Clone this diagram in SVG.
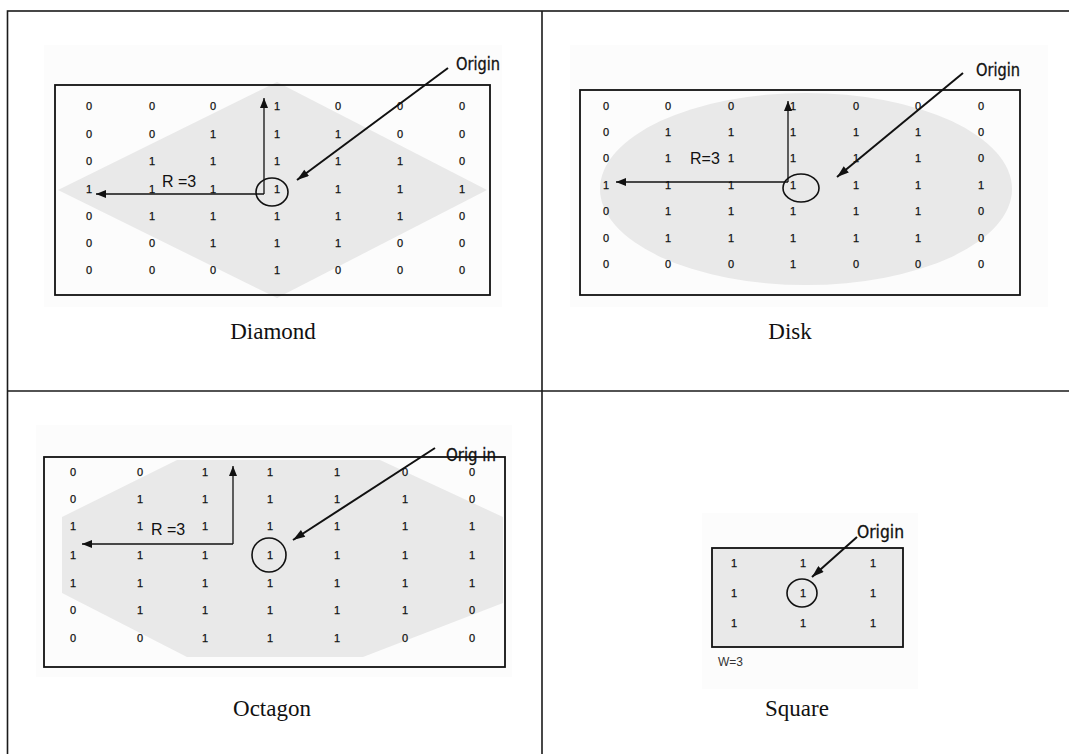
<svg xmlns="http://www.w3.org/2000/svg" width="1069" height="754" viewBox="0 0 1069 754">
  <style>
    .frame { fill: none; stroke: #1a1a1a; stroke-width: 1.6; }
    .box { fill: none; stroke: #111; stroke-width: 1.8; }
    .haze { fill: #fcfcfc; }
    .shape { fill: #e9e9e9; }
    .v { font-family: "Liberation Sans", Arial, sans-serif; font-size: 11px; fill: #111; stroke: #111; stroke-width: 0.25; text-anchor: middle; }
    .r { font-family: "Liberation Sans", Arial, sans-serif; font-size: 16px; fill: #111; }
    .w { font-family: "Liberation Sans", Arial, sans-serif; font-size: 12px; fill: #333; }
    .o { font-family: "Liberation Sans Narrow", "DejaVu Sans Condensed", "Liberation Sans", sans-serif; font-size: 17px; fill: #111; stroke: #111; stroke-width: 0.3; }
    .cap { font-family: "Liberation Serif", "Times New Roman", serif; font-size: 23px; fill: #111; text-anchor: middle; }
    .ring { fill: none; stroke: #111; stroke-width: 1.6; }
    .ray { fill: none; stroke: #111; stroke-width: 1.3; marker-end: url(#head); }
    .ptr { fill: none; stroke: #111; stroke-width: 2; marker-end: url(#bighead); }
  </style>
  <defs>
    <marker id="head" viewBox="0 0 10 8" refX="10" refY="4" markerWidth="10" markerHeight="8" markerUnits="userSpaceOnUse" orient="auto">
      <path d="M0,0 L10,4 L0,8 Z" fill="#111"/>
    </marker>
    <marker id="bighead" viewBox="0 0 12 8" refX="12" refY="4" markerWidth="13" markerHeight="8" markerUnits="userSpaceOnUse" orient="auto">
      <path d="M0,0 L12,4 L0,8 Z" fill="#111"/>
    </marker>
  </defs>

  <rect width="1069" height="754" fill="#fff"/>

  <!-- table grid -->
  <g id="table">
    <rect class="frame" x="7.5" y="11" width="1080" height="760"/>
    <line class="frame" x1="542" y1="11" x2="542" y2="760"/>
    <line class="frame" x1="7.5" y1="391" x2="1080" y2="391"/>
  </g>

  <!-- Diamond -->
  <g id="diamond">
    <rect class="haze" x="44" y="45" width="458" height="262"/>
    <polygon class="shape" points="277,82 487,190 277,298 58,190"/>
    <rect class="box" x="55" y="85" width="435" height="210"/>
    <g class="v">
      <text x="89" y="110">0</text><text x="152" y="110">0</text><text x="213" y="110">0</text><text x="277" y="110">1</text><text x="338" y="110">0</text><text x="400" y="110">0</text><text x="462" y="110">0</text>
      <text x="89" y="138">0</text><text x="152" y="138">0</text><text x="213" y="138">1</text><text x="277" y="138">1</text><text x="338" y="138">1</text><text x="400" y="138">0</text><text x="462" y="138">0</text>
      <text x="89" y="165">0</text><text x="152" y="165">1</text><text x="213" y="165">1</text><text x="277" y="165">1</text><text x="338" y="165">1</text><text x="400" y="165">1</text><text x="462" y="165">0</text>
      <text x="89" y="193">1</text><text x="152" y="193">1</text><text x="213" y="193">1</text><text x="277" y="193">1</text><text x="338" y="193">1</text><text x="400" y="193">1</text><text x="462" y="193">1</text>
      <text x="89" y="220">0</text><text x="152" y="220">1</text><text x="213" y="220">1</text><text x="277" y="220">1</text><text x="338" y="220">1</text><text x="400" y="220">1</text><text x="462" y="220">0</text>
      <text x="89" y="247">0</text><text x="152" y="247">0</text><text x="213" y="247">1</text><text x="277" y="247">1</text><text x="338" y="247">1</text><text x="400" y="247">0</text><text x="462" y="247">0</text>
      <text x="89" y="274">0</text><text x="152" y="274">0</text><text x="213" y="274">0</text><text x="277" y="274">1</text><text x="338" y="274">0</text><text x="400" y="274">0</text><text x="462" y="274">0</text>
    </g>
    <ellipse class="ring" cx="272" cy="192" rx="16" ry="14"/>
    <text class="r" x="162" y="187">R =3</text>
    <text class="o" x="456" y="70" textLength="44" lengthAdjust="spacingAndGlyphs">Origin</text>
    <text class="cap" x="273" y="339">Diamond</text>
  </g>

  <!-- Disk -->
  <g id="disk">
    <rect class="haze" x="570" y="45" width="478" height="262"/>
    <ellipse class="shape" cx="806" cy="189" rx="206" ry="96"/>
    <rect class="box" x="580" y="90" width="440" height="205"/>
    <g class="v">
      <text x="606" y="110">0</text><text x="668" y="110">0</text><text x="731" y="110">0</text><text x="793" y="110">1</text><text x="856" y="110">0</text><text x="918" y="110">0</text><text x="981" y="110">0</text>
      <text x="606" y="136">0</text><text x="668" y="136">1</text><text x="731" y="136">1</text><text x="793" y="136">1</text><text x="856" y="136">1</text><text x="918" y="136">1</text><text x="981" y="136">0</text>
      <text x="606" y="162">0</text><text x="668" y="162">1</text><text x="731" y="162">1</text><text x="793" y="162">1</text><text x="856" y="162">1</text><text x="918" y="162">1</text><text x="981" y="162">0</text>
      <text x="606" y="189">1</text><text x="668" y="189">1</text><text x="731" y="189">1</text><text x="793" y="189">1</text><text x="856" y="189">1</text><text x="918" y="189">1</text><text x="981" y="189">1</text>
      <text x="606" y="215">0</text><text x="668" y="215">1</text><text x="731" y="215">1</text><text x="793" y="215">1</text><text x="856" y="215">1</text><text x="918" y="215">1</text><text x="981" y="215">0</text>
      <text x="606" y="242">0</text><text x="668" y="242">1</text><text x="731" y="242">1</text><text x="793" y="242">1</text><text x="856" y="242">1</text><text x="918" y="242">1</text><text x="981" y="242">0</text>
      <text x="606" y="268">0</text><text x="668" y="268">0</text><text x="731" y="268">0</text><text x="793" y="268">1</text><text x="856" y="268">0</text><text x="918" y="268">0</text><text x="981" y="268">0</text>
    </g>
    <ellipse class="ring" cx="801" cy="188" rx="18" ry="14"/>
    <text class="r" x="690" y="164" font-size="14">R=3</text>
    <text class="o" x="976" y="76" textLength="44" lengthAdjust="spacingAndGlyphs">Origin</text>
    <text class="cap" x="790" y="339">Disk</text>
  </g>

  <!-- Octagon -->
  <g id="octagon">
    <rect class="haze" x="36" y="425" width="476" height="252"/>
    <polygon class="shape" points="177,460 380,460 503,517 503,603 363,657 187,657 62,593 62,517"/>
    <rect class="box" x="44" y="457" width="461" height="210"/>
    <g class="v">
      <text x="73" y="476">0</text><text x="140" y="476">0</text><text x="205" y="476">1</text><text x="270" y="476">1</text><text x="337" y="476">1</text><text x="405" y="476">0</text><text x="472" y="476">0</text>
      <text x="73" y="503">0</text><text x="140" y="503">1</text><text x="205" y="503">1</text><text x="270" y="503">1</text><text x="337" y="503">1</text><text x="405" y="503">1</text><text x="472" y="503">0</text>
      <text x="73" y="530">1</text><text x="140" y="530">1</text><text x="205" y="530">1</text><text x="270" y="530">1</text><text x="337" y="530">1</text><text x="405" y="530">1</text><text x="472" y="530">1</text>
      <text x="73" y="559">1</text><text x="140" y="559">1</text><text x="205" y="559">1</text><text x="270" y="559">1</text><text x="337" y="559">1</text><text x="405" y="559">1</text><text x="472" y="559">1</text>
      <text x="73" y="587">1</text><text x="140" y="587">1</text><text x="205" y="587">1</text><text x="270" y="587">1</text><text x="337" y="587">1</text><text x="405" y="587">1</text><text x="472" y="587">1</text>
      <text x="73" y="614">0</text><text x="140" y="614">1</text><text x="205" y="614">1</text><text x="270" y="614">1</text><text x="337" y="614">1</text><text x="405" y="614">1</text><text x="472" y="614">0</text>
      <text x="73" y="642">0</text><text x="140" y="642">0</text><text x="205" y="642">1</text><text x="270" y="642">1</text><text x="337" y="642">1</text><text x="405" y="642">0</text><text x="472" y="642">0</text>
    </g>
    <ellipse class="ring" cx="269" cy="555" rx="17" ry="17"/>
    <text class="r" x="151" y="535">R =3</text>
    <text class="o" x="446" y="461" font-size="16" textLength="50" lengthAdjust="spacingAndGlyphs">Orig in</text>
    <text class="cap" x="272" y="716">Octagon</text>
  </g>

  <!-- Square -->
  <g id="square">
    <rect class="haze" x="702" y="513" width="216" height="176"/>
    <rect class="shape" x="712" y="548" width="191" height="99"/>
    <rect class="box" x="712" y="548" width="191" height="99"/>
    <g class="v">
      <text x="734" y="567">1</text><text x="803" y="567">1</text><text x="873" y="567">1</text>
      <text x="734" y="597">1</text><text x="803" y="597">1</text><text x="873" y="597">1</text>
      <text x="734" y="627">1</text><text x="803" y="627">1</text><text x="873" y="627">1</text>
    </g>
    <ellipse class="ring" cx="802" cy="593" rx="15" ry="14"/>
    <text class="w" x="718" y="666">W=3</text>
    <text class="o" x="857" y="538" textLength="47" lengthAdjust="spacingAndGlyphs">Origin</text>
    <text class="cap" x="797" y="716">Square</text>
  </g>

  <!-- connectors -->
  <g id="connectors">
    <line class="ray" x1="264" y1="194" x2="264" y2="98"/>
    <line class="ray" x1="264" y1="194" x2="96" y2="194"/>
    <line class="ptr" x1="448" y1="68" x2="297" y2="180"/>

    <line class="ray" x1="788" y1="182" x2="788" y2="101"/>
    <line class="ray" x1="788" y1="182" x2="616" y2="182"/>
    <line class="ptr" x1="963" y1="73" x2="837" y2="177"/>

    <line class="ray" x1="233" y1="544" x2="233" y2="466"/>
    <line class="ray" x1="233" y1="544" x2="82" y2="544"/>
    <line class="ptr" x1="435" y1="448" x2="293" y2="540"/>

    <line class="ptr" x1="857" y1="537" x2="812" y2="577"/>
  </g>
</svg>
